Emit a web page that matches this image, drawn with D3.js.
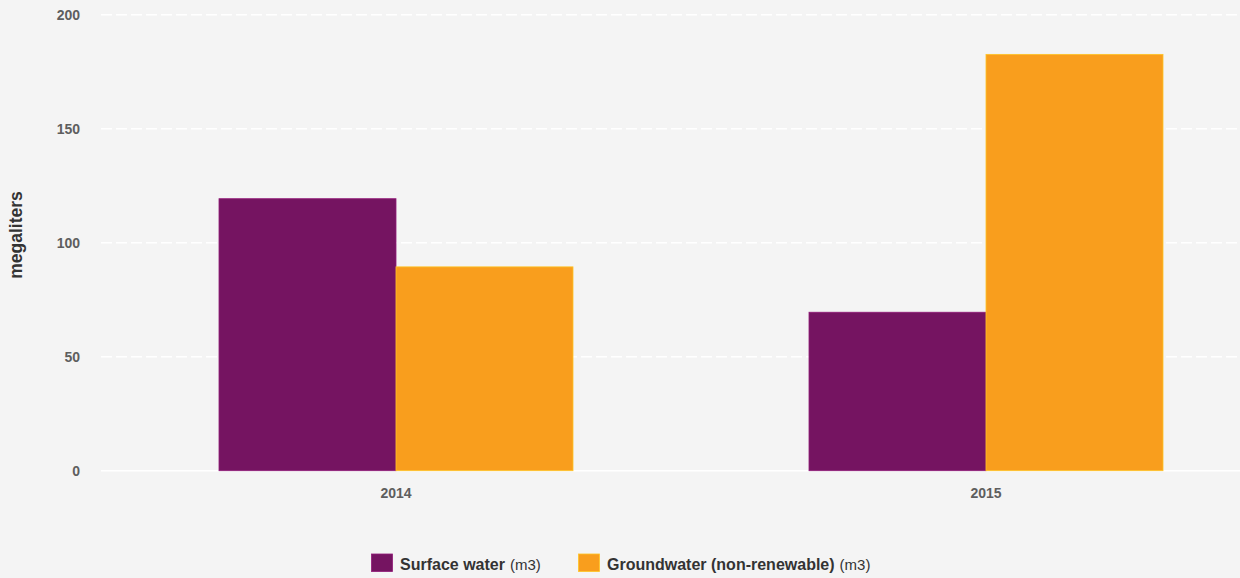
<!DOCTYPE html>
<html>
<head>
<meta charset="utf-8">
<script src="https://cdn.jsdelivr.net/npm/d3@7"></script>
<style>
  html, body { margin: 0; padding: 0; background: #f4f4f4; }
  svg { display: block; font-family: "Liberation Sans", Arial, Helvetica, sans-serif; }
</style>
</head>
<body>
<svg id="chart" width="1240" height="578"></svg>
<script>
const years = ["2014", "2015"];
const seriesNames = ["Surface water", "Groundwater (non-renewable)"];
const seriesUnits = ["(m3)", "(m3)"];
const surfaceWater = [119.3, 69.5];
const groundwater = [89.4, 182.6];
const yTicks = [0, 50, 100, 150, 200];
const colors = ["#751461", "#f99e1d"];
const yTitle = "megaliters";

const seriesValues = [surfaceWater, groundwater];

const svg = d3.select("#chart");
const W = 1240, H = 578;
const margin = { left: 101, top: 14.7, bottom: 107.3 };
const plotRight = 1281;

const x = d3.scaleBand().domain(years).range([margin.left, plotRight]).padding(0);
const xInner = d3.scaleBand().domain(seriesNames).range([0, x.bandwidth()]).paddingOuter(0.5 / 0.6 * 0.3 * 1.0).paddingInner(0);
// make the two bars occupy 60% of each band, centered
const innerWidth = x.bandwidth() * 0.6;
const innerStart = (x.bandwidth() - innerWidth) / 2;
const xs = d3.scaleBand().domain(seriesNames).range([innerStart, innerStart + innerWidth]).padding(0);

const y = d3.scaleLinear().domain([0, 200]).range([H - margin.bottom, margin.top]);

// grid
const grid = svg.append("g");
grid.selectAll("line").data(yTicks).join("line")
  .attr("x1", margin.left).attr("x2", W)
  .attr("y1", d => y(d)).attr("y2", d => y(d))
  .attr("stroke", "#ffffff")
  .attr("stroke-width", 1.6)
  .attr("stroke-dasharray", d => d === 0 ? null : "11,4");

// y tick labels
svg.append("g").selectAll("text").data(yTicks).join("text")
  .attr("x", 80).attr("y", d => y(d) + 1.5)
  .attr("text-anchor", "end").attr("dominant-baseline", "middle")
  .attr("font-size", 14).attr("font-weight", "bold").attr("fill", "#5e5e5e")
  .text(d => d);

// y title
svg.append("text")
  .attr("transform", `translate(22,${(190 + 280) / 2}) rotate(-90)`)
  .attr("text-anchor", "middle")
  .attr("font-size", 17.5).attr("font-weight", "bold").attr("fill", "#333")
  .text(yTitle);

// bars
const groups = svg.append("g").selectAll("g").data(years).join("g")
  .attr("transform", d => `translate(${x(d)},0)`);
groups.selectAll("rect").data((d, i) => seriesNames.map((s, j) => ({ s, j, v: seriesValues[j][i] })))
  .join("rect")
  .attr("x", d => xs(d.s))
  .attr("width", xs.bandwidth())
  .attr("y", d => y(d.v))
  .attr("height", d => y(0) - y(d.v))
  .attr("fill", d => colors[d.j])
  .attr("stroke", d => d3.color(colors[d.j]).brighter(0.6))
  .attr("stroke-width", 0.8);

// x labels
svg.append("g").selectAll("text").data(years).join("text")
  .attr("x", d => x(d) + x.bandwidth() / 2)
  .attr("y", 498)
  .attr("text-anchor", "middle")
  .attr("font-size", 14).attr("font-weight", "bold").attr("fill", "#5e5e5e")
  .text(d => d);

// legend
const legendX = [371.5, 578.5];
const legend = svg.append("g").selectAll("g").data(seriesNames).join("g")
  .attr("transform", (d, i) => `translate(${legendX[i]},554)`);
legend.append("rect")
  .attr("width", 21).attr("height", 17.5)
  .attr("fill", (d, i) => colors[i])
  .attr("stroke", (d, i) => d3.color(colors[i]).brighter(0.6))
  .attr("stroke-width", 0.8);
const lt = legend.append("text")
  .attr("x", 28.5).attr("y", 15.5)
  .attr("font-size", 16).attr("fill", "#333");
lt.append("tspan").attr("font-weight", "bold").text(d => d);
lt.append("tspan").attr("dx", 5).attr("font-size", 15).text((d, i) => seriesUnits[i]);
</script>
</body>
</html>
